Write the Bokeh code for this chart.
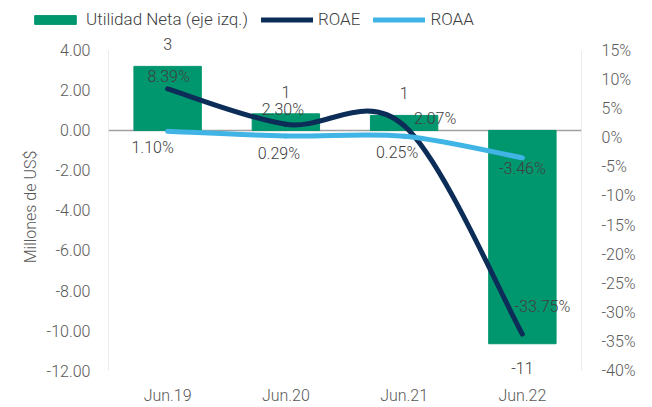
from bokeh.plotting import figure
from bokeh.layouts import column, row
from bokeh.models import (Range1d, LinearAxis, FixedTicker, NumeralTickFormatter,
                          PrintfTickFormatter, Span, Legend, LegendItem, ColumnDataSource)
from bokeh.core.properties import value
from bokeh.embed import file_html
from bokeh.resources import INLINE

# ---- data ----
categories = ["Jun.19", "Jun.20", "Jun.21", "Jun.22"]
utilidad_neta = [3.20, 0.83, 0.75, -10.66]      # millones de US$
roae = [8.39, 2.30, 2.07, -33.75]               # %
roaa = [1.10, 0.29, 0.25, -3.46]                # %
left_ticks = [-12, -10, -8, -6, -4, -2, 0, 2, 4]
right_ticks = [-40, -35, -30, -25, -20, -15, -10, -5, 0, 5, 10, 15]
series_names = ["Utilidad Neta (eje izq.)", "ROAE", "ROAA"]

# ---- styles ----
FONT = "Roboto Light"
TEXT = "#404040"
TICK = "#595959"
GREEN = "#00966E"
NAVY = "#0C2D57"
LIGHT = "#41B4E6"
AXIS = "#D9D9D9"
FS = "16px"
W = 652
LEG_H = 36

bar_label_dy = [-22, -22, -22, 24]
roae_dx = [1, -3, 31, 20]
roae_dy = [-12, -15, -7, -28]
roaa_dx = [-15, -7, -7, 0]
roaa_dy = [16, 17, 16, 11]

# frame padding beyond the tick extents (pixels), so labels are not clipped
PAD_TOP, PAD_BOTTOM, FRAME_H = 14, 7, 344

xs = list(range(len(categories)))


def padded(lo, hi):
    ppu = (FRAME_H - PAD_TOP - PAD_BOTTOM) / (hi - lo)
    return Range1d(lo - PAD_BOTTOM / ppu, hi + PAD_TOP / ppu)


p = figure(width=W, height=407 - LEG_H, output_backend="svg", toolbar_location=None,
           x_range=Range1d(-0.5, len(categories) - 0.5),
           y_range=padded(left_ticks[0], left_ticks[-1]),
           min_border_left=108, min_border_right=71, min_border_top=0,
           min_border_bottom=27)
p.extra_y_ranges = {"pct": padded(right_ticks[0], right_ticks[-1])}
p.xgrid.visible = False
p.ygrid.visible = False
p.outline_line_color = None
p.background_fill_color = "white"
p.border_fill_color = "white"


def style_axis(ax, standoff):
    ax.axis_line_color = None
    ax.major_tick_line_color = None
    ax.minor_tick_line_color = None
    ax.major_tick_out = 0
    ax.major_tick_in = 0
    ax.minor_tick_out = 0
    ax.minor_tick_in = 0
    ax.major_label_standoff = standoff
    ax.major_label_text_font = FONT
    ax.major_label_text_font_size = FS
    ax.major_label_text_color = TICK


# x axis
xa = p.xaxis[0]
xa.ticker = FixedTicker(ticks=xs)
xa.major_label_overrides = {i: c for i, c in zip(xs, categories)}
style_axis(xa, 8)

# left axis
ya = p.yaxis[0]
ya.ticker = FixedTicker(ticks=left_ticks)
ya.formatter = NumeralTickFormatter(format="0.00")
style_axis(ya, 18)
ya.axis_label = "Millones de US$"
ya.axis_label_text_font = FONT
ya.axis_label_text_font_size = FS
ya.axis_label_text_font_style = "normal"
ya.axis_label_text_color = TICK
ya.axis_label_standoff = 4

# right axis
ra = LinearAxis(y_range_name="pct", ticker=FixedTicker(ticks=right_ticks),
                formatter=PrintfTickFormatter(format="%d%%"))
style_axis(ra, 20)
p.add_layout(ra, "right")

# axis lines spanning the tick extents
p.segment(x0=[p.x_range.start], x1=[p.x_range.start], y0=[left_ticks[0]],
          y1=[left_ticks[-1]], line_color=AXIS, line_width=1)
p.segment(x0=[p.x_range.end], x1=[p.x_range.end], y0=[left_ticks[0]],
          y1=[left_ticks[-1]], line_color=AXIS, line_width=1)

# bars
bars = p.vbar(x=xs, top=utilidad_neta, bottom=0, width=0.57,
              fill_color=GREEN, line_color=GREEN)

p.add_layout(Span(location=0, dimension="width", line_color="#A0A0A0",
                  line_width=1.5, level="underlay"))


def smooth(xv, yv):
    n = len(xv)
    d = dict(x0=[], y0=[], x1=[], y1=[], cx0=[], cy0=[], cx1=[], cy1=[])
    for i in range(n - 1):
        pm = max(i - 1, 0)
        pn = min(i + 2, n - 1)
        d["x0"].append(xv[i]); d["y0"].append(yv[i])
        d["x1"].append(xv[i + 1]); d["y1"].append(yv[i + 1])
        d["cx0"].append(xv[i] + (xv[i + 1] - xv[pm]) / 6)
        d["cy0"].append(yv[i] + (yv[i + 1] - yv[pm]) / 6)
        d["cx1"].append(xv[i + 1] - (xv[pn] - xv[i]) / 6)
        d["cy1"].append(yv[i + 1] - (yv[pn] - yv[i]) / 6)
    return ColumnDataSource(d)


p.bezier("x0", "y0", "x1", "y1", "cx0", "cy0", "cx1", "cy1",
         source=smooth(xs, roae), y_range_name="pct",
         line_color=NAVY, line_width=5, line_cap="round")
p.bezier("x0", "y0", "x1", "y1", "cx0", "cy0", "cx1", "cy1",
         source=smooth(xs, roaa), y_range_name="pct",
         line_color=LIGHT, line_width=5, line_cap="round")

# data labels
p.text(x=xs, y=utilidad_neta, text=[f"{v:.0f}" for v in utilidad_neta],
       y_offset=bar_label_dy, text_align="center", text_baseline="middle",
       text_font=value(FONT), text_font_size=FS, text_color=TEXT)
p.text(x=xs, y=roae, text=[f"{v:.2f}%" for v in roae], y_range_name="pct",
       x_offset=roae_dx, y_offset=roae_dy, text_align="center",
       text_baseline="middle", text_font=value(FONT), text_font_size=FS,
       text_color=TEXT)
p.text(x=xs, y=roaa, text=[f"{v:.2f}%" for v in roaa], y_range_name="pct",
       x_offset=roaa_dx, y_offset=roaa_dy, text_align="center",
       text_baseline="middle", text_font=value(FONT), text_font_size=FS,
       text_color=TEXT)

# ---- legend strip (separate figure above the chart; its series lie out of view) ----
lg = figure(width=W, height=LEG_H, output_backend="svg", toolbar_location=None,
            x_range=Range1d(0, 1), y_range=Range1d(1000, 1001),
            x_axis_location=None, y_axis_location=None,
            min_border_left=0, min_border_right=0, min_border_top=0,
            min_border_bottom=0)
lg.xgrid.visible = False
lg.ygrid.visible = False
lg.outline_line_color = None
lg.border_fill_color = "white"
leg_bar = lg.vbar(x=xs, top=utilidad_neta, width=0.57, fill_color=GREEN,
                  line_color=GREEN)
leg_roae = lg.line(x=xs, y=roae, line_color=NAVY, line_width=5, line_cap="round")
leg_roaa = lg.line(x=xs, y=roaa, line_color=LIGHT, line_width=5, line_cap="round")

legend = Legend(items=[LegendItem(label=series_names[0], renderers=[leg_bar]),
                       LegendItem(label=series_names[1], renderers=[leg_roae]),
                       LegendItem(label=series_names[2], renderers=[leg_roaa])],
                orientation="horizontal", location=(29, 7),
                glyph_width=52, glyph_height=11, label_standoff=5, spacing=13,
                padding=0, margin=0, border_line_alpha=0, background_fill_alpha=0,
                label_text_font=FONT, label_text_font_size="17px",
                label_text_color=TEXT)
lg.add_layout(legend)

layout = column(row(lg), p, spacing=0)
open("out.html", "w").write(file_html(layout, INLINE))
